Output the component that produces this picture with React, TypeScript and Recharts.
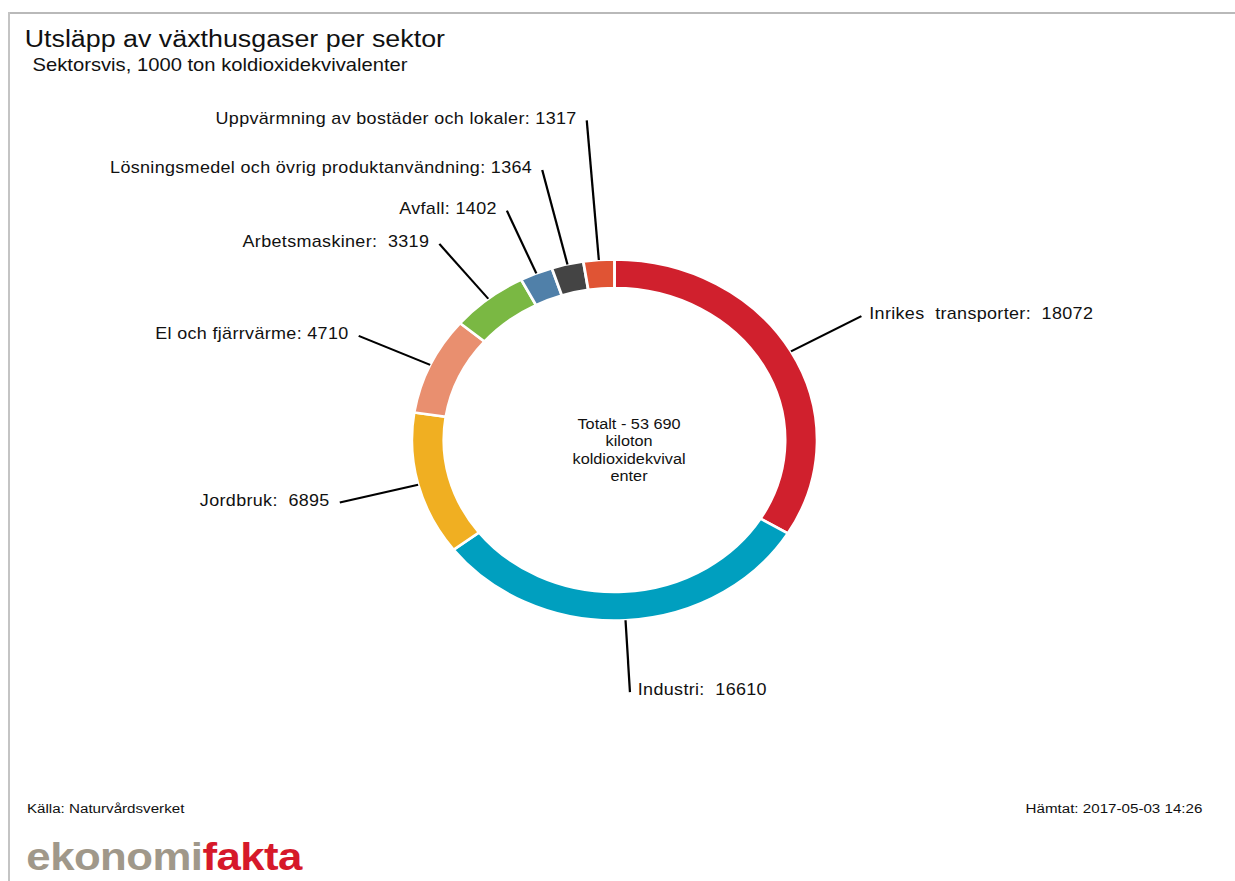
import React from 'react';
import { PieChart, Pie, Cell, Label } from 'recharts';

// the reference image is stretched horizontally, so draw narrow and scale
const STRETCH = 1.1227;
const W = 1100;
const H = 881;
const CX = 547.3;
const CY = 440;

const sectors = [
  'Inrikes  transporter',
  'Industri',
  'Jordbruk',
  'El och fjärrvärme',
  'Arbetsmaskiner',
  'Avfall',
  'Lösningsmedel och övrig produktanvändning',
  'Uppvärmning av bostäder och lokaler',
];
const emissions = [18072, 16610, 6895, 4710, 3319, 1402, 1364, 1317];
const colors = ['#d0202d', '#009fbf', '#f0af22', '#e98f6f', '#7ab843', '#5080a9', '#444444', '#e05434'];
const centerLines = ['Totalt - 53 690', 'kiloton', 'koldioxidekvival', 'enter'];

// label layout: leader line length and space after colon
const leader = [72, 72, 72, 70, 70, 68, 97, 140];
const gap = [2, 2, 2, 1, 2, 1, 1, 1];

const data = sectors.map((name, i) => ({ name, value: emissions[i] }));

const RAD = Math.PI / 180;
const FONT = '"Liberation Sans", Arial, sans-serif';

const renderLabel = (props: any) => {
  const { cx, cy, midAngle, outerRadius, index, name, value } = props;
  const cos = Math.cos(-midAngle * RAD);
  const sin = Math.sin(-midAngle * RAD);
  const x1 = cx + outerRadius * cos;
  const y1 = cy + outerRadius * sin;
  const r2 = outerRadius + leader[index];
  const x2 = cx + r2 * cos;
  const y2 = cy + r2 * sin;
  const right = x2 > cx;
  return (
    <g key={`lbl-${index}`}>
      <line x1={x1} y1={y1} x2={x2} y2={y2} stroke="#000" strokeWidth={2} />
      <text
        x={x2 + (right ? 7 : -9)}
        y={y2 - 2}
        textAnchor={right ? 'start' : 'end'}
        dominantBaseline="central"
        fill="#111"
        fontSize={16}
        letterSpacing={0.3}
        fontFamily={FONT}
        style={{ whiteSpace: 'pre' }}
      >
        {`${name}:${' '.repeat(gap[index])}${value}`}
      </text>
    </g>
  );
};

const renderCenter = (props: any) => {
  const vb = props.viewBox || {};
  const x = (vb.cx ?? CX) + 13;
  const y = (vb.cy ?? CY) - 16;
  return (
    <text x={x} y={y} textAnchor="middle" fontSize={14.5} fontFamily={FONT} fill="#111">
      {centerLines.map((l, i) => (
        <tspan key={i} x={x} dy={i === 0 ? 0 : 17.3} dominantBaseline="central">
          {l}
        </tspan>
      ))}
    </text>
  );
};

export default function App() {
  return (
    <div style={{ position: 'absolute', left: 0, top: 0, width: 1235, height: H, background: '#fff', overflow: 'hidden' }}>
      <div style={{ position: 'absolute', left: 9, top: 12, width: 1226, borderTop: '2px solid #b9b9b9' }} />
      <div style={{ position: 'absolute', left: 8, top: 12, height: H, borderLeft: '2px solid #c4c4c4' }} />
      <div
        style={{
          position: 'absolute',
          left: 0,
          top: 0,
          width: W,
          height: H,
          transform: `scaleX(${STRETCH})`,
          transformOrigin: '0 0',
        }}
      >
        <PieChart width={W} height={H} margin={{ top: 0, right: 0, bottom: 0, left: 0 }}>
          <Pie
            data={data}
            dataKey="value"
            nameKey="name"
            cx={CX}
            cy={CY}
            innerRadius={152}
            outerRadius={180.5}
            startAngle={90}
            endAngle={-270}
            stroke="#fff"
            strokeWidth={2.5}
            label={renderLabel}
            labelLine={false}
            isAnimationActive={false}
          >
            {data.map((d, i) => (
              <Cell key={d.name} fill={colors[i]} />
            ))}
            <Label position="center" content={renderCenter} />
          </Pie>
        </PieChart>
        <svg width={W} height={H} style={{ position: 'absolute', left: 0, top: 0, pointerEvents: 'none' }} fontFamily={FONT}>
          <text x={22} y={47} fontSize={23.9} fill="#111">Utsläpp av växthusgaser per sektor</text>
          <text x={29} y={71} fontSize={18} fill="#111">Sektorsvis, 1000 ton koldioxidekvivalenter</text>
          <text x={24} y={813} fontSize={13.5} fill="#111">Källa: Naturvårdsverket</text>
          <text x={1071} y={813} fontSize={13.5} fill="#111" textAnchor="end">Hämtat: 2017-05-03 14:26</text>
          <text x={23.5} y={870} fontSize={39} fontWeight="bold" letterSpacing={-0.5}>
            <tspan fill="#a0988a">ekonomi</tspan>
            <tspan fill="#d6192a">fakta</tspan>
          </text>
        </svg>
      </div>
    </div>
  );
}
